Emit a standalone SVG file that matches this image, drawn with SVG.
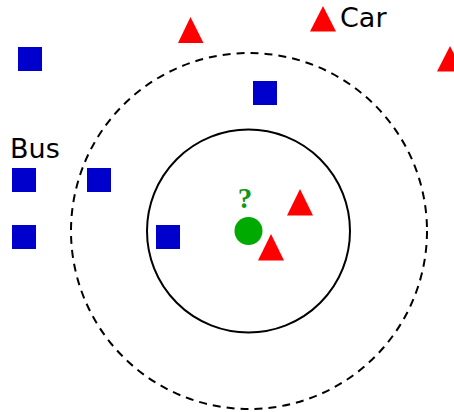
<svg xmlns="http://www.w3.org/2000/svg" width="454" height="412" viewBox="0 0 454 412">
  <style>
    .sq { fill: #0000cc; }
    .tri { fill: #ff0000; }
    .lbl { font-family: "DejaVu Sans", "Liberation Sans", sans-serif; font-size: 27px; fill: #000; }
    .ring { fill: none; stroke: #000; stroke-width: 2; }
  </style>
  <rect width="454" height="412" fill="#fff"/>
  <g id="connectors">
    <circle id="k5" class="ring" cx="249" cy="231" r="178" stroke-dasharray="8,6"/>
    <circle id="k3" class="ring" cx="248.5" cy="231" r="101.5"/>
  </g>
  <g id="bus-squares">
    <rect class="sq" x="18" y="47" width="24" height="24"/>
    <rect class="sq" x="253" y="81" width="24" height="24"/>
    <rect class="sq" x="12" y="168" width="24" height="24"/>
    <rect class="sq" x="87" y="168" width="24" height="24"/>
    <rect class="sq" x="12" y="225" width="24" height="24"/>
    <rect class="sq" x="156" y="225" width="24" height="24"/>
  </g>
  <g id="car-triangles">
    <polygon class="tri" points="190.5,17 178,43 203.5,43"/>
    <polygon class="tri" points="323,6 310,31.5 336,31.5"/>
    <polygon class="tri" points="450,46 437,71.5 463,71.5"/>
    <polygon class="tri" points="300,189 287,215.5 313,215.5"/>
    <polygon class="tri" points="271,234 258,260.5 284,260.5"/>
  </g>
  <g id="query">
    <circle cx="248.5" cy="231" r="14" fill="#00aa00"/>
    <text x="245" y="208" text-anchor="middle" font-family="Liberation Serif, serif" font-weight="bold" font-size="29" fill="#119911">?</text>
  </g>
  <g id="labels">
    <text class="lbl" x="340" y="27">Car</text>
    <text class="lbl" x="10" y="158">Bus</text>
  </g>
</svg>
